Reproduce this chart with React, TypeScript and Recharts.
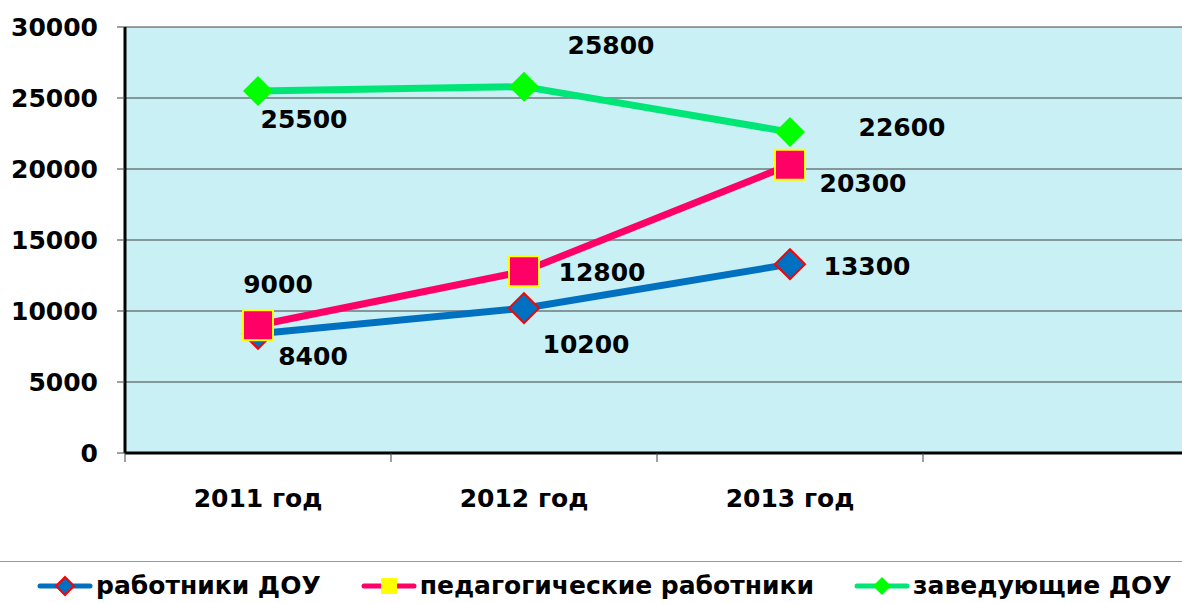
import React from 'react'
import {
  LineChart,
  Line,
  XAxis,
  YAxis,
  CartesianGrid,
  Legend,
} from 'recharts'

const CATEGORIES = ['2011 год', '2012 год', '2013 год', '']
const WORKERS = [8400, 10200, 13300]
const TEACHERS = [9000, 12800, 20300]
const HEADS = [25500, 25800, 22600]
const Y_TICKS = [0, 5000, 10000, 15000, 20000, 25000, 30000]

const FONT = '"DejaVu Sans", Verdana, sans-serif'
const FS = 25

// label offsets from the point (text centre), per series and year
const WORKERS_LABEL = [[55, 23], [62, 36], [77, 2]]
const TEACHERS_LABEL = [[20, -41], [78, 1], [73, 19]]
const HEADS_LABEL = [[46, 29], [87, -41], [112, -5]]

const data = CATEGORIES.map((year, i) => ({
  year,
  workers: WORKERS[i],
  teachers: TEACHERS[i],
  heads: HEADS[i],
}))

const SERIES = [
  { key: 'workers', name: 'работники ДОУ', line: '#0070c0', fill: '#0070c0', border: '#ff0000', shape: 'diamond', legendFill: '#0070c0', labels: WORKERS_LABEL },
  { key: 'teachers', name: 'педагогические работники', line: '#ff0066', fill: '#ff0066', border: '#ffff00', shape: 'square', legendFill: '#ffff00', labels: TEACHERS_LABEL },
  { key: 'heads', name: 'заведующие ДОУ', line: '#00e676', fill: '#00ff00', border: 'none', shape: 'diamond', legendFill: '#00ff00', labels: HEADS_LABEL },
]

function Marker({ cx, cy, shape, fill, border, size }: any) {
  if (cx == null || cy == null) return null
  const h = size / 2
  if (shape === 'square') {
    return <rect x={cx - h} y={cy - h} width={size} height={size} fill={fill} stroke={border} strokeWidth={2} />
  }
  return (
    <polygon
      points={`${cx},${cy - h} ${cx + h},${cy} ${cx},${cy + h} ${cx - h},${cy}`}
      fill={fill}
      stroke={border}
      strokeWidth={border === 'none' ? 0 : 2}
    />
  )
}

function makeLabel(offsets: number[][]) {
  return (props: any) => {
    const { x, y, value, index } = props
    if (value == null || !offsets[index]) return null
    const [dx, dy] = offsets[index]
    return (
      <text
        x={x + dx}
        y={y + dy}
        textAnchor="middle"
        dominantBaseline="central"
        fontFamily={FONT}
        fontWeight="bold"
        fontSize={FS}
        fill="#000"
      >
        {value}
      </text>
    )
  }
}

function XTick(props: any) {
  const { x, y, payload } = props
  const half = 133
  return (
    <g>
      <line x1={x - half} x2={x - half} y1={y} y2={y + 9} stroke="#404040" strokeWidth={1} />
      <text
        x={x}
        y={y + 45}
        textAnchor="middle"
        dominantBaseline="central"
        fontFamily={FONT}
        fontWeight="bold"
        fontSize={FS}
        fill="#000"
      >
        {payload.value}
      </text>
    </g>
  )
}

function LegendContent() {
  return (
    <div style={{ display: 'flex', alignItems: 'center', gap: 40, paddingLeft: 37 }}>
      {SERIES.map((s) => (
        <div key={s.key} style={{ display: 'flex', alignItems: 'center' }}>
          <svg width={56} height={22}>
            <line x1={3} x2={53} y1={11} y2={11} stroke={s.line} strokeWidth={5} strokeLinecap="round" />
            <Marker cx={28} cy={11} shape={s.shape} fill={s.legendFill} border={s.shape === 'square' ? 'none' : s.border} size={s.shape === 'square' ? 16 : 18} />
          </svg>
          <span
            style={{
              fontFamily: FONT,
              fontWeight: 'bold',
              fontSize: FS,
              color: '#000',
              marginLeft: 3,
              whiteSpace: 'nowrap',
            }}
          >
            {s.name}
          </span>
        </div>
      ))}
    </div>
  )
}

export default function App() {
  return (
    <div
      style={{
        position: 'absolute',
        left: 0,
        top: 0,
        width: 1182,
        height: 603,
        overflow: 'hidden',
        background: '#fff',
      }}
    >
      <div style={{ position: 'absolute', left: 0, top: 561, width: 1182, borderTop: '1px solid #999' }} />
      <LineChart width={1192} height={603} data={data} margin={{ top: 27, right: 3, bottom: 120, left: 0 }}>
        <CartesianGrid vertical={false} fill="#c8f0f5" stroke="#404040" strokeWidth={1} />
        <XAxis
          dataKey="year"
          height={30}
          padding={{ left: 133, right: 133 }}
          axisLine={{ stroke: '#000', strokeWidth: 3 }}
          tickLine={false}
          tickSize={0}
          tickMargin={0}
          tick={<XTick />}
          interval={0}
        />
        <YAxis
          width={125}
          domain={[0, 30000]}
          ticks={Y_TICKS}
          interval={0}
          axisLine={{ stroke: '#000', strokeWidth: 3 }}
          tickLine={{ stroke: '#404040' }}
          tickSize={8}
          tickMargin={19}
          tick={{ fontFamily: FONT, fontWeight: 'bold', fontSize: FS, fill: '#000' }}
        />
        <Legend
          layout="horizontal"
          verticalAlign="middle"
          align="center"
          content={<LegendContent />}
          wrapperStyle={{ top: 571, left: 0, width: 1182 }}
        />
        {SERIES.map((s) => (
          <Line
            key={s.key}
            dataKey={s.key}
            name={s.name}
            stroke={s.line}
            strokeWidth={7}
            isAnimationActive={false}
            dot={(p: any) => (
              <Marker key={`${s.key}-${p.index}`} cx={p.cx} cy={p.cy} shape={s.shape} fill={s.fill} border={s.border} size={30} />
            )}
            activeDot={false}
            label={makeLabel(s.labels)}
          />
        ))}
      </LineChart>
    </div>
  )
}
